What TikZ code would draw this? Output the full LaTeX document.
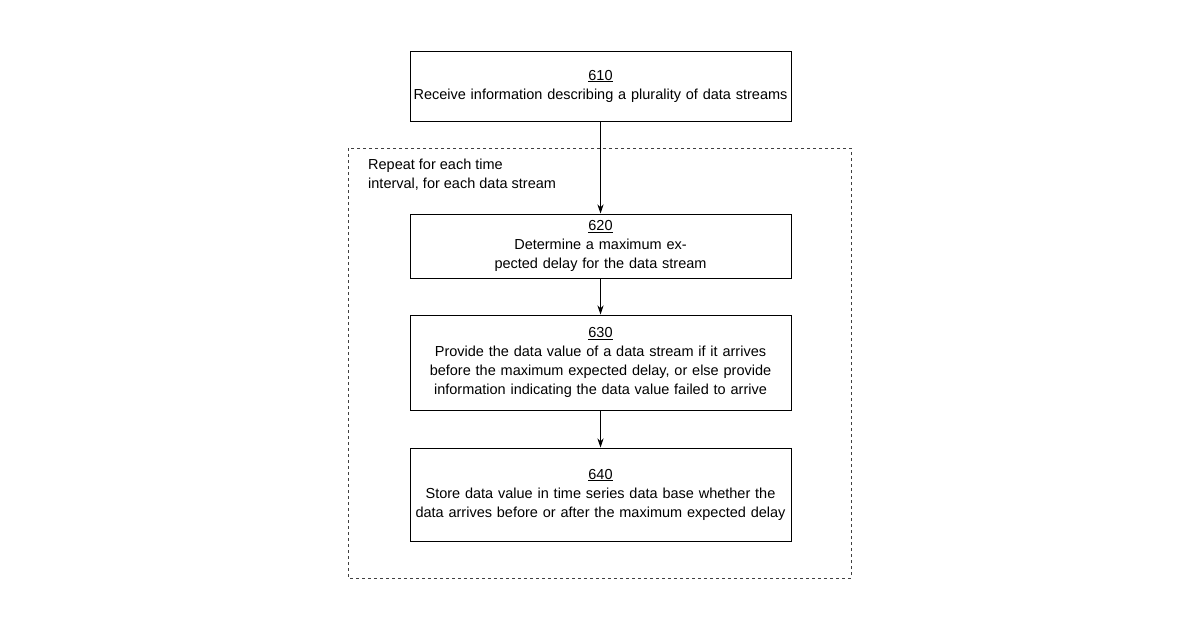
\documentclass[tikz,border=0pt]{standalone}
\usepackage{fontspec}
\setmainfont{Liberation Sans}
\usetikzlibrary{arrows.meta}
\begin{document}
\begin{tikzpicture}[x=1pt,y=-1pt,
 box/.style={draw,line width=1pt,minimum width=381pt,text width=375pt,align=center,font=\fontsize{14.5}{19}\selectfont,inner sep=2pt},
 arr/.style={-{Stealth[length=9pt,width=6pt]},line width=0.8pt}]
\useasboundingbox (0,0) rectangle (1200,630);
\draw[dashed,line width=0.9pt,gray!50!black] (348,148) rectangle (851,578);
\node[box,minimum height=70pt] (a) at (600.5,86) {\underline{610}\\Receive information describing a plurality of data streams};
\node[box,minimum height=64pt] (b) at (600.5,246) {\underline{620}\\Determine a maximum expected delay for the data stream};
\node[box,minimum height=95pt] (c) at (600.5,362.5) {\underline{630}\\Provide the data value of a data stream if it arrives before the maximum expected delay, or else provide information indicating the data value failed to arrive};
\node[box,minimum height=93pt] (d) at (600.5,494.5) {\underline{640}\\Store data value in time series data base whether the data arrives before or after the maximum expected delay};
\node[anchor=north west,align=left,font=\fontsize{14.5}{19}\selectfont,inner sep=0pt] (r) at (368,159) {Repeat for each time\\interval, for each data stream};
\draw[arr] (a) -- (b);
\draw[arr] (b) -- (c);
\draw[arr] (c) -- (d);
\end{tikzpicture}
\end{document}
